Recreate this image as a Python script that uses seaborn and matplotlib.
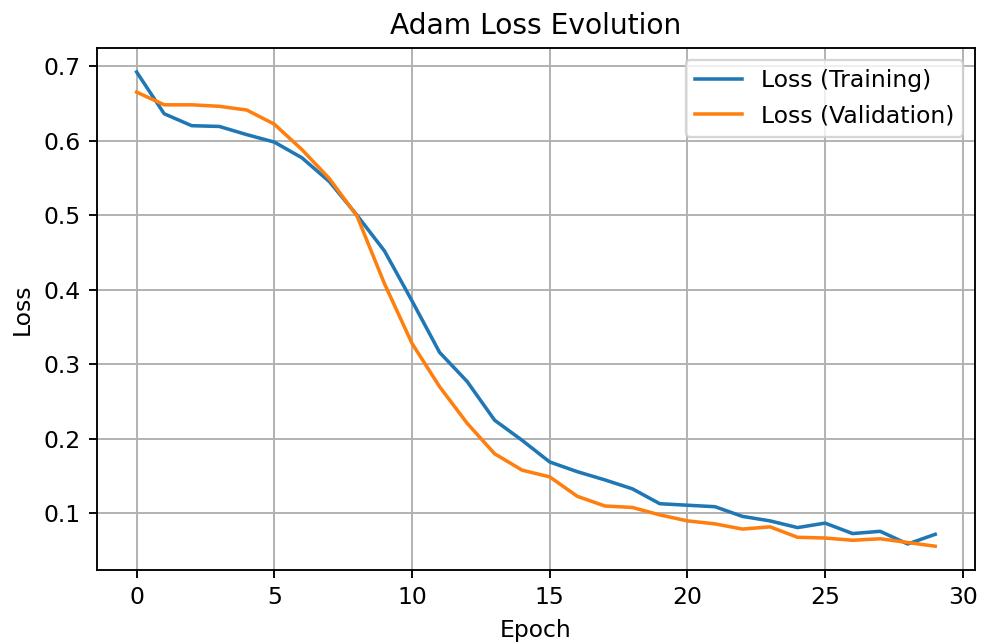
import numpy as np
import pandas as pd
import matplotlib
matplotlib.use("Agg")
import matplotlib.pyplot as plt
import seaborn as sns

epochs = list(range(30))
train_loss = [0.692, 0.636, 0.620, 0.619, 0.608, 0.598, 0.577, 0.545, 0.500, 0.452,
              0.385, 0.316, 0.277, 0.225, 0.198, 0.169, 0.156, 0.145, 0.133, 0.113,
              0.111, 0.109, 0.096, 0.090, 0.081, 0.087, 0.073, 0.076, 0.059, 0.072]
val_loss = [0.665, 0.648, 0.648, 0.646, 0.641, 0.622, 0.588, 0.549, 0.499, 0.408,
            0.328, 0.270, 0.221, 0.180, 0.158, 0.149, 0.123, 0.110, 0.108, 0.098,
            0.090, 0.086, 0.079, 0.082, 0.068, 0.067, 0.064, 0.066, 0.061, 0.056]

df = pd.DataFrame({"Epoch": epochs * 2,
                   "Loss": train_loss + val_loss,
                   "kind": ["Loss (Training)"] * 30 + ["Loss (Validation)"] * 30})

dpi = 169
fig, ax = plt.subplots(figsize=(987 / dpi, 644 / dpi), dpi=dpi)
fig.subplots_adjust(left=0.098, right=0.988, top=0.925, bottom=0.115)
sns.lineplot(data=df, x="Epoch", y="Loss", hue="kind", ax=ax,
             palette=["#1f77b4", "#ff7f0e"], linewidth=1.5)
ax.set_title("Adam Loss Evolution")
ax.grid(True)
ax.legend(loc="upper right")
fig.savefig("out.png", dpi=dpi)
